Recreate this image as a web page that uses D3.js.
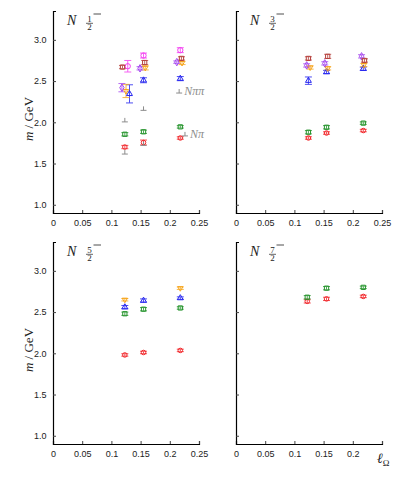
<!DOCTYPE html>
<html>
<head>
<meta charset="utf-8">
<script src="https://cdn.jsdelivr.net/npm/d3@7"></script>
<style>
  body { margin: 0; background: #fff; }
  text { fill: #222; }
</style>
</head>
<body>
<div id="chart"></div>
<script>
// spin labels per panel
const spins = ["1", "3", "5", "7"];

// [series, lattice spacing, mass, error]
const N12 = [
  ["red", 0.123, 1.70, 0.02], ["red", 0.155, 1.755, 0.03], ["red", 0.218, 1.81, 0.015],
  ["green", 0.123, 1.855, 0.02], ["green", 0.155, 1.885, 0.02], ["green", 0.218, 1.945, 0.015],
  ["blue", 0.131, 2.345, 0.11], ["blue", 0.155, 2.51, 0.03], ["blue", 0.218, 2.53, 0.025],
  ["orange", 0.125, 2.38, 0.08], ["orange", 0.158, 2.66, 0.025], ["orange", 0.221, 2.72, 0.02],
  ["purple", 0.118, 2.42, 0.05], ["purple", 0.149, 2.655, 0.02], ["purple", 0.212, 2.73, 0.015],
  ["magenta", 0.128, 2.68, 0.07], ["magenta", 0.155, 2.81, 0.03], ["magenta", 0.218, 2.875, 0.03],
  ["brown", 0.119, 2.67, 0.02], ["brown", 0.157, 2.725, 0.025], ["brown", 0.22, 2.775, 0.02]
];
const N32 = [
  ["red", 0.124, 1.81, 0.015], ["red", 0.155, 1.87, 0.015], ["red", 0.218, 1.90, 0.015],
  ["green", 0.124, 1.88, 0.02], ["green", 0.155, 1.94, 0.02], ["green", 0.218, 1.99, 0.015],
  ["blue", 0.124, 2.505, 0.045], ["blue", 0.155, 2.61, 0.02], ["blue", 0.218, 2.65, 0.02],
  ["orange", 0.127, 2.665, 0.02], ["orange", 0.157, 2.655, 0.02], ["orange", 0.219, 2.695, 0.02],
  ["purple", 0.121, 2.69, 0.02], ["purple", 0.152, 2.715, 0.02], ["purple", 0.215, 2.80, 0.02],
  ["brown", 0.124, 2.775, 0.02], ["brown", 0.157, 2.80, 0.025], ["brown", 0.22, 2.75, 0.02]
];
const N52 = [
  ["red", 0.123, 1.98, 0.015], ["red", 0.155, 2.01, 0.015], ["red", 0.218, 2.035, 0.015],
  ["green", 0.123, 2.48, 0.02], ["green", 0.155, 2.535, 0.02], ["green", 0.218, 2.55, 0.015],
  ["blue", 0.123, 2.56, 0.02], ["blue", 0.155, 2.64, 0.02], ["blue", 0.218, 2.67, 0.015],
  ["orange", 0.123, 2.65, 0.015], ["orange", 0.218, 2.79, 0.015]
];
const N72 = [
  ["red", 0.122, 2.63, 0.02], ["red", 0.155, 2.66, 0.02], ["red", 0.218, 2.69, 0.015],
  ["green", 0.122, 2.68, 0.02], ["green", 0.155, 2.79, 0.02], ["green", 0.218, 2.80, 0.015]
];
// two-hadron thresholds in the 1/2- panel
const thrNpi = [[0.123, 1.615], [0.155, 1.72], [0.226, 1.835]];
const thrNpipi = [[0.123, 2.005], [0.155, 2.145], [0.216, 2.355]];

const xTicks = [0, 0.05, 0.1, 0.15, 0.2, 0.25];
const yTicks = [1.0, 1.5, 2.0, 2.5, 3.0];

const colors = {
  red: "#f2262a", green: "#27952e", blue: "#2424f0", orange: "#f7a51a",
  purple: "#a445f0", magenta: "#f43cf2", brown: "#b6403c"
};
const shapes = {
  red: d3.symbolCircle, green: d3.symbolSquare, blue: d3.symbolTriangle,
  orange: d3.symbolTriangle, purple: d3.symbolDiamond, magenta: d3.symbolCircle,
  brown: d3.symbolSquare
};
const sizes = { red: 16, green: 18, blue: 15, orange: 12, purple: 16, magenta: 22, brown: 18 };

const W = 415, H = 479;
const pw = 146, ph = 202;
const panels = [
  { data: N12, left: 53, top: 11, labels: true, last: true },
  { data: N32, left: 236, top: 11, labels: false, last: true },
  { data: N52, left: 53, top: 242, labels: true, last: true },
  { data: N72, left: 236, top: 242, labels: false, last: false }
];

const svg = d3.select("#chart").append("svg")
  .attr("width", W).attr("height", H);

const x = d3.scaleLinear().domain([0, 0.25]).range([0, pw]);
const y = d3.scaleLinear().domain([0.9, 3.35]).range([ph, 0]);

panels.forEach((p, i) => {
  const g = svg.append("g").attr("transform", `translate(${p.left},${p.top})`);

  const xAxis = d3.axisBottom(x).tickValues(xTicks).tickSize(-3)
    .tickFormat(d => d === 0 ? "0" : (d === 0.25 && !p.last) ? "" : d3.format("")(d));
  const gx = g.append("g").attr("transform", `translate(0,${ph})`).call(xAxis);
  gx.select(".domain").attr("stroke", "#000").attr("stroke-width", 1.2);
  gx.selectAll("text").attr("font-family", "Liberation Sans, Arial, sans-serif")
    .attr("font-size", 9).attr("fill", "#333").attr("dy", "1.1em");
  gx.selectAll("line").attr("stroke", "#444");

  const yAxis = d3.axisLeft(y).tickValues(yTicks).tickSize(-3)
    .tickFormat(p.labels ? d3.format(".1f") : "");
  const gy = g.append("g").call(yAxis);
  gy.select(".domain").attr("stroke", "#000").attr("stroke-width", 1.2);
  gy.selectAll("text").attr("font-family", "Liberation Sans, Arial, sans-serif")
    .attr("font-size", 9).attr("fill", "#333").attr("dx", "-0.4em");
  gy.selectAll("line").attr("stroke", "#444");

  // error bars
  const eb = g.selectAll(".eb").data(p.data).enter().append("g")
    .attr("stroke", d => colors[d[0]]).attr("stroke-width", 1).attr("opacity", 0.8);
  eb.append("line")
    .attr("x1", d => x(d[1])).attr("x2", d => x(d[1]))
    .attr("y1", d => y(d[2] - d[3])).attr("y2", d => y(d[2] + d[3]));
  eb.append("line")
    .attr("x1", d => x(d[1]) - 3.5).attr("x2", d => x(d[1]) + 3.5)
    .attr("y1", d => y(d[2] - d[3])).attr("y2", d => y(d[2] - d[3]));
  eb.append("line")
    .attr("x1", d => x(d[1]) - 3.5).attr("x2", d => x(d[1]) + 3.5)
    .attr("y1", d => y(d[2] + d[3])).attr("y2", d => y(d[2] + d[3]));

  // markers
  g.selectAll(".pt").data(p.data).enter().append("path")
    .attr("transform", d => `translate(${x(d[1])},${y(d[2])})` + (d[0] === "orange" ? " rotate(180)" : ""))
    .attr("d", d => d3.symbol().type(shapes[d[0]]).size(sizes[d[0]])())
    .attr("fill", "none").attr("stroke", d => colors[d[0]]).attr("stroke-width", 1);

  if (i === 0) {
    [thrNpi, thrNpipi].forEach(thr => {
      const tg = g.selectAll(null).data(thr).enter().append("g")
        .attr("stroke", "#8c8c8c").attr("stroke-width", 1);
      tg.append("line")
        .attr("x1", d => x(d[0])).attr("x2", d => x(d[0]))
        .attr("y1", d => y(d[1]) - 4).attr("y2", d => y(d[1]));
      tg.append("line")
        .attr("x1", d => x(d[0]) - 3).attr("x2", d => x(d[0]) + 3)
        .attr("y1", d => y(d[1])).attr("y2", d => y(d[1]));
    });
    const lab = (t, d) => g.append("text")
      .attr("x", x(d[0]) + 5).attr("y", y(d[1]) + 2)
      .attr("font-family", "Liberation Serif, Times New Roman, serif")
      .attr("font-style", "italic").attr("font-size", 12)
      .style("fill", "#8c8c8c").text(t);
    lab("Nπ", thrNpi[2]);
    lab("Nππ", thrNpipi[2]);
  }

  // panel title N (J/2)^-
  const tt = g.append("g").attr("transform", "translate(14,14)");
  tt.append("text").attr("x", 0).attr("y", 0)
    .attr("font-family", "Liberation Serif, Times New Roman, serif")
    .attr("font-style", "italic").attr("font-size", 14).text("N");
  tt.append("text").attr("x", 22.5).attr("y", -3.5).attr("text-anchor", "middle")
    .attr("font-family", "Liberation Serif, Times New Roman, serif")
    .attr("font-size", 9).text(spins[i]);
  tt.append("line").attr("x1", 19).attr("x2", 26).attr("y1", -1.7).attr("y2", -1.7)
    .attr("stroke", "#222").attr("stroke-width", 0.7);
  tt.append("text").attr("x", 22.5).attr("y", 5).attr("text-anchor", "middle")
    .attr("font-family", "Liberation Serif, Times New Roman, serif")
    .attr("font-size", 9).text("2");
  tt.append("line").attr("x1", 26.5).attr("x2", 34).attr("y1", -11).attr("y2", -11)
    .attr("stroke", "#222").attr("stroke-width", 0.8);

  // y label
  if (p.labels) {
    const yl = svg.append("text")
      .attr("transform", `translate(33,${p.top + 108}) rotate(-90)`)
      .attr("text-anchor", "middle")
      .attr("font-family", "Liberation Serif, Times New Roman, serif")
      .attr("font-size", 13);
    yl.append("tspan").attr("font-style", "italic").text("m");
    yl.append("tspan").text(" / GeV");
  }
});

// x label
const xl = svg.append("text").attr("x", 377).attr("y", 463)
  .attr("font-family", "Liberation Serif, Times New Roman, serif")
  .attr("font-size", 14);
xl.append("tspan").attr("font-style", "italic").text("ℓ");
xl.append("tspan").attr("font-size", 9).attr("dy", 3).text("Ω");
</script>
</body>
</html>
